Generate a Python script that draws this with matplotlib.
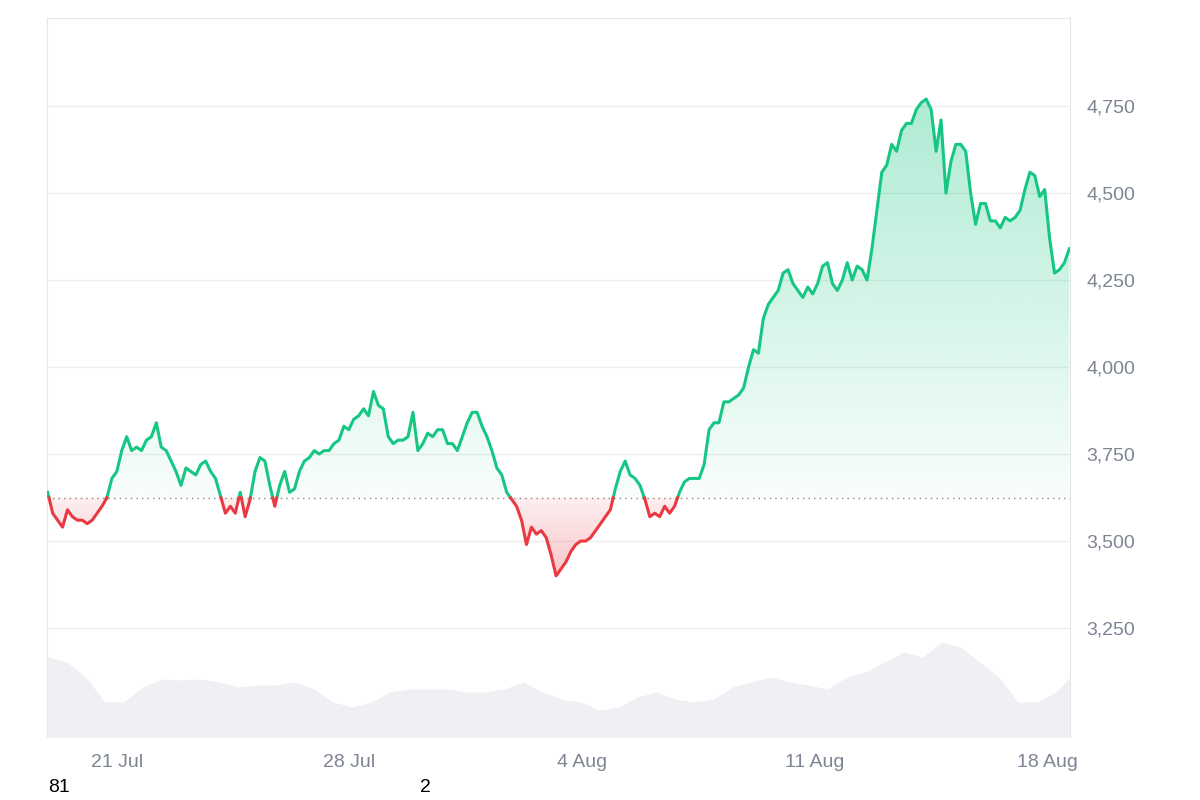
import numpy as np
import pandas as pd
import matplotlib
matplotlib.use("Agg")
import matplotlib.pyplot as plt
import matplotlib.dates as mdates
from matplotlib.patches import Polygon

plt.rcParams['font.family'] = ['Liberation Sans', 'DejaVu Sans']

prices = [3640,3580,3560,3540,3590,3570,3560,3560,3550,3560,3580,3600,3625,3680,3700,3760,3800,3760,3770,3760,
3790,3800,3840,3770,3760,3730,3700,3660,3710,3700,3690,3720,3730,3700,3680,3630,3580,3600,3580,3640,
3570,3620,3700,3740,3730,3660,3600,3660,3700,3640,3650,3700,3730,3740,3760,3750,3760,3760,3780,3790,
3830,3820,3850,3860,3880,3860,3930,3890,3880,3800,3780,3790,3790,3800,3870,3760,3780,3810,3800,3820,
3820,3780,3780,3760,3800,3840,3870,3870,3830,3800,3760,3710,3690,3640,3620,3600,3560,3490,3540,3520,
3530,3510,3460,3400,3420,3440,3470,3490,3500,3500,3510,3530,3550,3570,3590,3650,3700,3730,3690,3680,
3660,3620,3570,3580,3570,3600,3580,3600,3640,3670,3680,3680,3680,3720,3820,3840,3840,3900,3900,3910,
3920,3940,4000,4050,4040,4140,4180,4200,4220,4270,4280,4240,4220,4200,4230,4210,4240,4290,4300,4240,
4220,4250,4300,4250,4290,4280,4250,4340,4450,4560,4580,4640,4620,4680,4700,4700,4740,4760,4770,4740,
4620,4710,4500,4590,4640,4640,4620,4500,4410,4470,4470,4420,4420,4400,4430,4420,4430,4450,4510,4560,
4550,4490,4510,4370,4270,4280,4300,4340]
volume = [80,75,60,35,35,50,58,57,58,55,50,52,52,55,48,35,30,35,45,48,48,48,45,45,48,55,45,38,35,27,
30,40,45,38,35,38,50,55,60,55,52,48,60,65,75,85,80,95,90,75,60,35,35,45,65]
baseline = 3624
yticks = [3250, 3500, 3750, 4000, 4250, 4500, 4750]
xtick_dates = ["2025-07-21", "2025-07-28", "2025-08-04", "2025-08-11", "2025-08-18"]
xtick_labels = ["21 Jul", "28 Jul", "4 Aug", "11 Aug", "18 Aug"]

start, end = pd.Timestamp("2025-07-18 22:00"), pd.Timestamp("2025-08-18 16:00")
t = mdates.date2num(pd.date_range(start, end, periods=len(prices)))
tv = mdates.date2num(pd.date_range(start, pd.Timestamp("2025-08-18 20:00"), periods=len(volume)))
p = np.array(prices, float)

xs, ys = [t[0]], [p[0]]
for i in range(1, len(p)):
    a, b = p[i-1]-baseline, p[i]-baseline
    if a*b < 0:
        f = a/(a-b)
        xs.append(t[i-1]+f*(t[i]-t[i-1])); ys.append(baseline)
    xs.append(t[i]); ys.append(p[i])
xs, ys = np.array(xs), np.array(ys)

GREEN, RED = "#16c784", "#ea3943"
fig = plt.figure(figsize=(12, 8), dpi=100)
ax = fig.add_axes([0.0392, 0.07875, 0.8525, 0.89875])
x0 = mdates.date2num(pd.Timestamp("2025-07-18 21:30"))
x1 = mdates.date2num(pd.Timestamp("2025-08-18 16:30"))

axv = ax.twinx()
axv.set_ylim(0, 719)
axv.fill_between(tv, volume, 0, color="#eef0f3", lw=0, zorder=0)
axv.set_axis_off()
ax.set_zorder(axv.get_zorder()+1); ax.patch.set_visible(False)

for y in yticks:
    ax.axhline(y, color="#eeeeee", lw=1, zorder=0)
ax.axhline(baseline, color="#888888", lw=1, ls=(0, (1, 3)), zorder=1)

up = np.maximum(ys, baseline)
poly = Polygon(np.column_stack([np.r_[xs, xs[::-1]], np.r_[up, np.full_like(xs, baseline)]]), closed=True, fc="none", ec="none")
ax.add_patch(poly)
img = np.zeros((256, 1, 4)); img[..., :3] = matplotlib.colors.to_rgb(GREEN); img[..., 3] = np.linspace(0.35, 0.03, 256).reshape(-1, 1)
im = ax.imshow(img, origin="upper", aspect="auto", zorder=1, extent=[x0, x1, baseline, 4780])
im.set_clip_path(poly)
lo = np.minimum(ys, baseline)
poly2 = Polygon(np.column_stack([np.r_[xs, xs[::-1]], np.r_[lo, np.full_like(xs, baseline)]]), closed=True, fc="none", ec="none")
ax.add_patch(poly2)
img2 = np.zeros((256, 1, 4)); img2[..., :3] = matplotlib.colors.to_rgb(RED); img2[..., 3] = np.linspace(0.08, 0.3, 256).reshape(-1, 1)
im2 = ax.imshow(img2, origin="upper", aspect="auto", zorder=1, extent=[x0, x1, 3390, baseline])
im2.set_clip_path(poly2)
ax.set_xlim(x0, x1); ax.set_ylim(2937, 5003)

ax.plot(xs, np.where(ys >= baseline, ys, np.nan), color=GREEN, lw=2.2, zorder=3)
ax.plot(xs, np.where(ys <= baseline, ys, np.nan), color=RED, lw=2.2, zorder=3)

ax.yaxis.tick_right()
ax.set_yticks(yticks)
ax.set_yticklabels([f"{v:,}" for v in yticks])
ax.set_xticks(mdates.date2num(pd.to_datetime(xtick_dates)))
ax.set_xticklabels(xtick_labels)
ax.tick_params(length=0, labelsize=14, colors="#7d8592", pad=12)
for s in ["left", "top", "right"]:
    ax.spines[s].set_color("#e6e6e6")
ax.spines["bottom"].set_visible(False)

fig.text(0.04, 0.01, "81", fontsize=14, color="black")
fig.text(0.35, 0.01, "2", fontsize=14, color="black")
fig.savefig("out.png", dpi=100, facecolor="white")
